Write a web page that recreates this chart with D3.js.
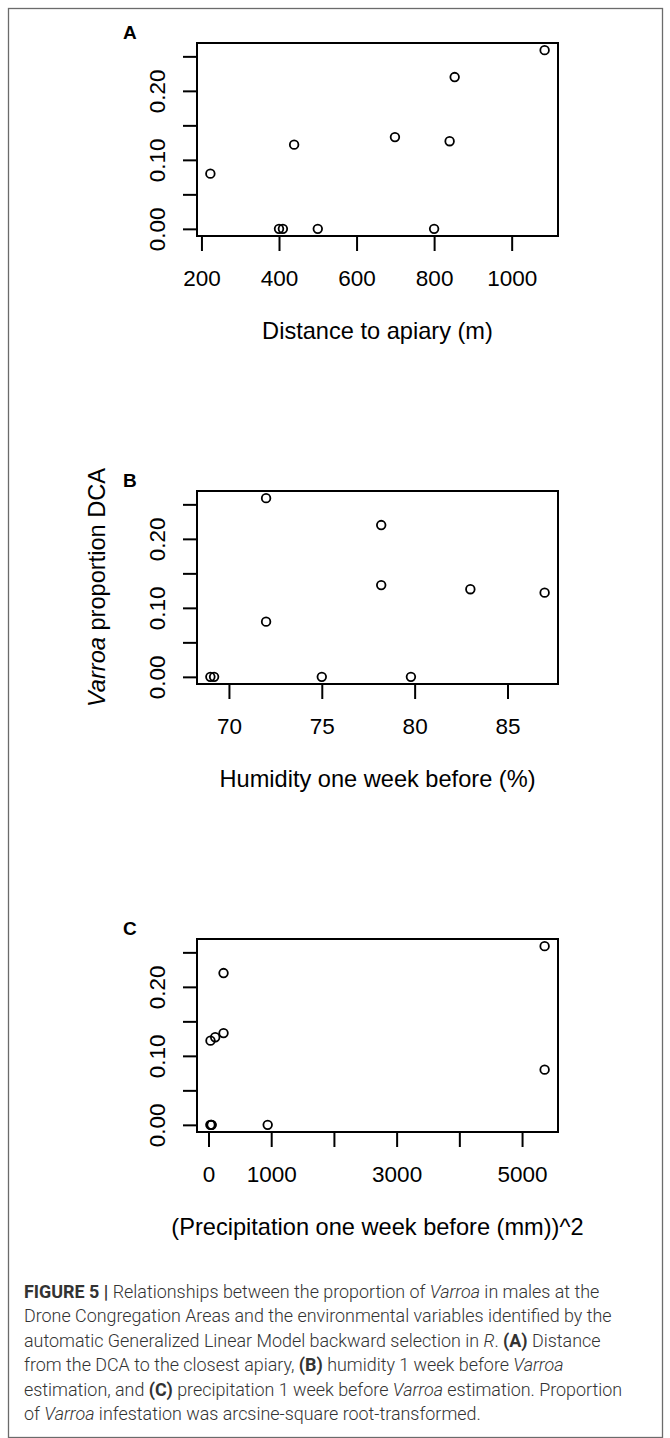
<!DOCTYPE html>
<html>
<head>
<meta charset="utf-8">
<script src="https://cdn.jsdelivr.net/npm/d3@7"></script>
<style>
    body { margin: 0; background: #fff; }
    svg text { font-family: "Liberation Sans", Arial, sans-serif; }
</style>
</head>
<body>
<div id="figure"></div>
<script>
// Varroa proportion (arcsine-sqrt transformed), one value per DCA
var yProportion = [0.080, 0, 0, 0.122, 0, 0.133, 0, 0.127, 0.220, 0.259];
// matching x values for each panel
var distanceApiary = [223, 400, 410, 439, 500, 699, 800, 840, 853, 1085];
var humidityWeek = [72, 69, 69.2, 87, 75, 78.2, 79.8, 83, 78.2, 72];
var precipWeekSq = [5360, 30, 50, 32, 944, 240, 45, 107, 240, 5360];

var distTicks = [200, 400, 600, 800, 1000];
var humTicks = [70, 75, 80, 85];
var precipTicks = [0, 1000, 2000, 3000, 4000, 5000];
var precipTickLabels = ["0", "1000", "", "3000", "", "5000"];
var yTicks = [0, 0.05, 0.10, 0.15, 0.20, 0.25];
var yTickLabels = ["0.00", "", "0.10", "", "0.20", ""];

var panelLetters = ["A", "B", "C"];
var xTitles = ["Distance to apiary (m)", "Humidity one week before (%)", "(Precipitation one week before (mm))^2"];

var captionLines = [
    [["b", "FIGURE 5 | "], ["", "Relationships between the proportion of "], ["i", "Varroa"], ["", " in males at the"]],
    [["", "Drone Congregation Areas and the environmental variables identified by the"]],
    [["", "automatic Generalized Linear Model backward selection in "], ["i", "R"], ["", ". "], ["b", "(A)"], ["", " Distance"]],
    [["", "from the DCA to the closest apiary, "], ["b", "(B)"], ["", " humidity 1 week before "], ["i", "Varroa"]],
    [["", "estimation, and "], ["b", "(C)"], ["", " precipitation 1 week before "], ["i", "Varroa"], ["", " estimation. Proportion"]],
    [["", "of "], ["i", "Varroa"], ["", " infestation was arcsine-square root-transformed."]]
];

function varroa_figure(_containerId) {
    var WIDTH = 670, HEIGHT = 1438;
    var BOX_LEFT = 197, BOX_RIGHT = 558, BOX_H = 193;
    var PANEL_TOP = [43, 491, 939];

    var svg = d3.select(_containerId).append("svg")
        .attr("width", WIDTH)
        .attr("height", HEIGHT);

    // outer frame
    svg.append("rect")
        .attr("x", 8.5).attr("y", 8.5)
        .attr("width", 654).attr("height", 1429)
        .attr("fill", "none")
        .attr("stroke", "#6b6b6b")
        .attr("stroke-width", 1.3);

    // R style range: data extent plus 4%
    function r_domain(vals) {
        var e = d3.extent(vals), pad = (e[1] - e[0]) * 0.04;
        return [e[0] - pad, e[1] + pad];
    }

    var xData = [distanceApiary, humidityWeek, precipWeekSq];
    var xTickSets = [distTicks, humTicks, precipTicks];
    var xTickText = [null, null, precipTickLabels];

    function draw_panel(p) {
        var top = PANEL_TOP[p], bottom = top + BOX_H;
        var g = svg.append("g").attr("class", "panel");

        var x = d3.scaleLinear().domain(r_domain(xData[p])).range([BOX_LEFT, BOX_RIGHT]);
        var y = d3.scaleLinear().domain(r_domain(yProportion)).range([bottom, top]);

        var xAxis = d3.axisBottom(x)
            .tickValues(xTickSets[p])
            .tickSize(15)
            .tickFormat(function (d, i) {
                return xTickText[p] ? xTickText[p][i] : d3.format("d")(d);
            });
        var gx = g.append("g")
            .attr("transform", "translate(0," + bottom + ")")
            .call(xAxis);
        gx.select(".domain").remove();
        gx.selectAll("line").attr("stroke", "#000").attr("stroke-width", 2);
        gx.selectAll("text")
            .attr("y", 50).attr("dy", null)
            .attr("fill", "#000")
            .style("font-size", "22.5px");

        var yAxis = d3.axisLeft(y)
            .tickValues(yTicks)
            .tickSize(14)
            .tickFormat(function (d, i) { return yTickLabels[i]; });
        var gy = g.append("g")
            .attr("transform", "translate(" + BOX_LEFT + ",0)")
            .call(yAxis);
        gy.select(".domain").remove();
        gy.selectAll("line").attr("stroke", "#000").attr("stroke-width", 2);
        gy.selectAll("text")
            .attr("x", 0).attr("y", -32).attr("dy", null)
            .attr("transform", "rotate(-90)")
            .attr("text-anchor", "middle")
            .attr("fill", "#000")
            .style("font-size", "22.5px");

        // plot box
        g.append("rect")
            .attr("x", BOX_LEFT).attr("y", top)
            .attr("width", BOX_RIGHT - BOX_LEFT).attr("height", BOX_H)
            .attr("fill", "none")
            .attr("stroke", "#000")
            .attr("stroke-width", 2);

        g.selectAll("circle")
            .data(xData[p]).enter()
            .append("circle")
            .attr("cx", function (d) { return x(d); })
            .attr("cy", function (d, i) { return y(yProportion[i]); })
            .attr("r", 4.3)
            .attr("fill", "none")
            .attr("stroke", "#000")
            .attr("stroke-width", 1.8);

        g.append("text")
            .attr("x", (BOX_LEFT + BOX_RIGHT) / 2)
            .attr("y", bottom + 103)
            .attr("text-anchor", "middle")
            .attr("fill", "#000")
            .style("font-size", "23.6px")
            .text(xTitles[p]);

        g.append("text")
            .attr("x", 123)
            .attr("y", top - 4)
            .attr("fill", "#000")
            .style("font-size", "19px")
            .style("font-weight", "bold")
            .text(panelLetters[p]);

        if (p === 1) {
            var yl = g.append("text")
                .attr("transform", "translate(105," + (top + BOX_H / 2) + ")rotate(-90)")
                .attr("text-anchor", "middle")
                .attr("fill", "#000")
                .style("font-size", "23.6px");
            yl.append("tspan").style("font-style", "italic").text("Varroa");
            yl.append("tspan").text(" proportion DCA");
        }
    }

    function draw_caption() {
        var cap = svg.append("g").attr("class", "caption");
        var lines = cap.selectAll("text")
            .data(captionLines).enter()
            .append("text")
            .attr("x", 0)
            .attr("y", function (d, i) { return 1298 + i * 24.5; })
            .attr("fill", "#333")
            .style("font-family", "Roboto, 'Liberation Sans', sans-serif")
            .style("font-weight", "300")
            .style("font-size", "18px");

        lines.selectAll("tspan")
            .data(function (d) { return d; }).enter()
            .append("tspan")
            .style("font-weight", function (d) { return d[0] === "b" ? "bold" : null; })
            .style("font-style", function (d) { return d[0] === "i" ? "italic" : null; })
            .text(function (d) { return d[1]; });

        // squeeze to the narrow caption face of the journal
        var w = lines.nodes()[0].getComputedTextLength();
        var sx = 576 / w;
        cap.attr("transform", "translate(24,0)scale(" + sx + ",1)");
    }

    [0, 1, 2].forEach(draw_panel);
    draw_caption();
}

varroa_figure("#figure");
</script>
</body>
</html>
